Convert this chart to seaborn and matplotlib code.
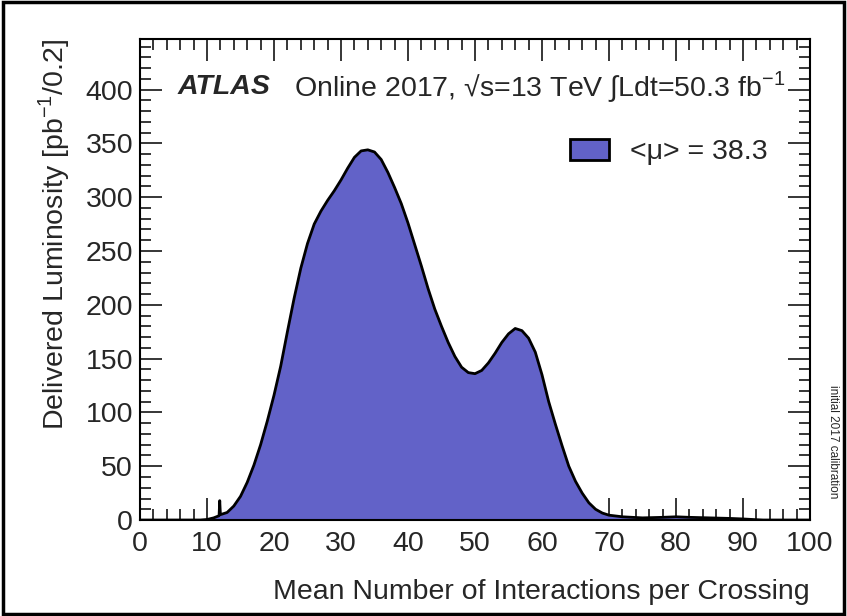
import numpy as np
import pandas as pd
import matplotlib
matplotlib.use("Agg")
import matplotlib.pyplot as plt
import seaborn as sns
from matplotlib.patches import Patch, Rectangle
from matplotlib.ticker import MultipleLocator

# ---- data ----
mu = [0, 9, 10, 11, 11.8, 11.9, 12.0, 13, 14, 15, 16, 17, 18, 19, 20,
      21, 22, 23, 24, 25, 26, 27, 28, 29, 30, 31, 32, 33, 34, 35, 36, 37,
      38, 39, 40, 41, 42, 43, 44, 45, 46, 47, 48, 49, 50, 51, 52, 53, 54,
      55, 56, 57, 58, 59, 60, 61, 62, 63, 64, 65, 66, 67, 68, 69, 70, 72,
      75, 78, 80, 82, 85, 88, 90, 92, 93, 100]
lumi = [0, 0, 0.5, 2, 4, 18, 5, 7, 13, 22, 35, 51, 70, 92, 116,
        143, 175, 206, 234, 257, 275, 287, 297, 306, 316, 327, 337, 343, 344, 342, 335, 323,
        309, 294, 276, 256, 236, 215, 196, 180, 165, 152, 142, 137, 136, 139, 146, 155, 165,
        173, 178, 176, 169, 156, 135, 110, 89, 69, 50, 36, 25, 16, 10, 6.5, 4.5, 3,
        2, 2.5, 3, 2.5, 2, 1.5, 1, 0.3, 0, 0]
x_ticks = [0, 10, 20, 30, 40, 50, 60, 70, 80, 90, 100]
y_ticks = [0, 50, 100, 150, 200, 250, 300, 350, 400]
legend_label = "<\u03bc> = 38.3"

df = pd.DataFrame({"mu": mu, "lumi": lumi})

sns.set_style("ticks")
plt.rcParams['font.family'] = ['Liberation Sans', 'DejaVu Sans']
plt.rcParams['mathtext.fontset'] = 'custom'
plt.rcParams['mathtext.rm'] = 'Liberation Sans'

FS = 20.5

fig = plt.figure(figsize=(8.47, 6.16), dpi=100)
ax = fig.add_axes([0.1653, 0.1558, 0.7910, 0.7809])

fill_color = "#6262c8"
ax.fill_between(df["mu"], 0, df["lumi"], color=fill_color, linewidth=0, zorder=2)
sns.lineplot(data=df, x="mu", y="lumi", ax=ax, color="black", linewidth=2.0,
             sort=False, estimator=None, zorder=3)

ax.set_xlim(0, 100)
ax.set_ylim(0, 447)
ax.set_xticks(x_ticks)
ax.set_yticks(y_ticks)
ax.xaxis.set_minor_locator(MultipleLocator(2))
ax.yaxis.set_minor_locator(MultipleLocator(10))
ax.tick_params(which='both', direction='in', top=True, right=True, width=1.1, color='black')
ax.tick_params(which='major', length=16, labelsize=FS)
ax.tick_params(which='minor', length=8)
ax.tick_params(axis='x', which='major', pad=8)
ax.tick_params(axis='y', which='major', pad=5)
for s in ax.spines.values():
    s.set_linewidth(1.5)
    s.set_color('black')

ax.set_xlabel("Mean Number of Interactions per Crossing", fontsize=FS, loc='right', labelpad=16)
ax.set_ylabel("Delivered Luminosity [pb$^{-1}$/0.2]", fontsize=FS, loc='top', labelpad=10)

# ATLAS label
ax.text(0.056, 0.900, "ATLAS", transform=ax.transAxes, fontsize=FS,
        fontweight='bold', fontstyle='italic', va='center', ha='left')
ax.text(0.230, 0.900, "Online 2017, \u221as=13 TeV $\\int$Ldt=50.3 fb$^{-1}$",
        transform=ax.transAxes, fontsize=FS, va='center', ha='left')

# legend
handle = Patch(facecolor=fill_color, edgecolor='black', linewidth=2)
ax.legend(handles=[handle], labels=[legend_label], frameon=False, fontsize=FS,
          loc='center left', bbox_to_anchor=(0.642, 0.765), handlelength=1.35,
          handleheight=0.75, handletextpad=0.75, borderaxespad=0, borderpad=0)

# side note
fig.text(0.983, 0.283, "initial 2017 calibration", rotation=-90, fontsize=8.5,
         ha='center', va='center')

# figure border
fig.patches.append(Rectangle((0.004, 0.003), 0.993, 0.994, transform=fig.transFigure,
                             fill=False, edgecolor='black', linewidth=2.5))

fig.savefig("out.png", dpi=100)
